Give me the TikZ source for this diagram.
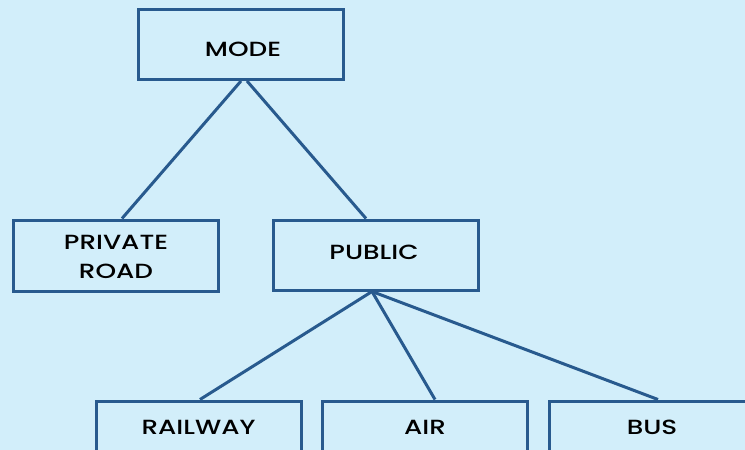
\documentclass[tikz,border=0pt]{standalone}
\usepackage{fontspec}
\setmainfont{Poppins}[UprightFont=* Medium, FakeStretch=1.28]
\usetikzlibrary{calc}
\definecolor{bgc}{HTML}{D2EEFA}
\definecolor{edgec}{HTML}{285A8E}
\begin{document}
\begin{tikzpicture}[x=1pt,y=-1pt,
  box/.style={draw=edgec,line width=3pt,minimum width=205pt,minimum height=70pt,inner sep=0pt},
  txt/.style={inner sep=0pt,align=center,font=\fontsize{20.5}{28.5}\selectfont,text=black},
  link/.style={draw=edgec,line width=3pt}]
\fill[bgc] (0,0) rectangle (745,450);
\useasboundingbox (0,0) rectangle (745,450);
\node[box] (mode) at (240.5,44.5) {};
\node[box,minimum height=71pt] (priv) at (116,255.5) {};
\node[box] (pub) at (375.5,255) {};
\node[box] (rail) at (198.5,436) {};
\node[box] (air) at (425,436) {};
\node[box] (bus) at (652,436) {};
\node[txt] (modeT) at (243,49.5) {MODE};
\node[txt] (privT) at (116,257) {PRIVATE\\ROAD};
\node[txt] (pubT) at (374,252.5) {PUBLIC};
\node[txt] (railT) at (198.5,427.5) {RAILWAY};
\node[txt] (airT) at (425,427.5) {AIR};
\node[txt] (busT) at (652,427.5) {BUS};
\draw[link] ([xshift=0.5pt]mode.south) -- ([xshift=6pt]priv.north);
\draw[link] ([xshift=6.5pt]mode.south) -- ([xshift=-9.5pt]pub.north);
\draw[link] ([xshift=-3.5pt]pub.south) -- ([xshift=1.5pt]rail.north);
\draw[link] ([xshift=-3.5pt]pub.south) -- ([xshift=10pt]air.north);
\draw[link] ([xshift=-3.5pt]pub.south) -- ([xshift=6pt]bus.north);
\end{tikzpicture}
\end{document}
